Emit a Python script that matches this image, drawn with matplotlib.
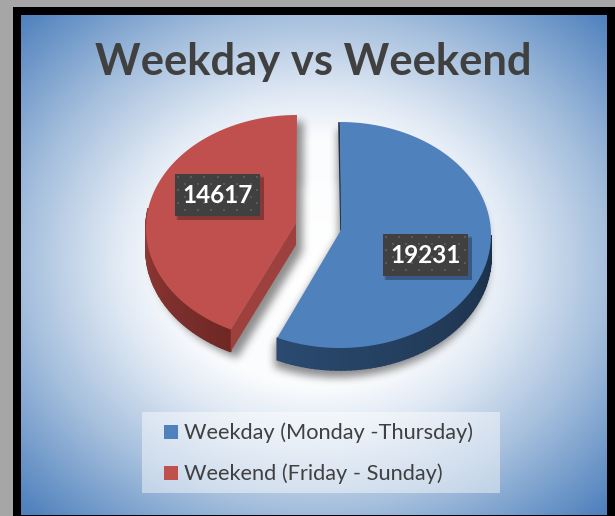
import numpy as np
import matplotlib
matplotlib.use("Agg")
import matplotlib.pyplot as plt
from matplotlib.colors import to_rgb
from matplotlib.patches import Polygon, Rectangle
from matplotlib.path import Path

labels = ["Weekday (Monday -Thursday)", "Weekend (Friday - Sunday)"]
values = [19231, 14617]
title = "Weekday vs Weekend"

BLUE = "#4f81bd"
RED = "#c0504d"
RED_CUT = "#9e403d"
RX, RY, DEPTH = 151, 113, 22


def rim(cx, cy, t0, t1, n=160):
    # angles run clockwise from the top, squashed to an ellipse
    t = np.radians(np.linspace(t0, t1, n))
    return np.column_stack([cx + RX * np.sin(t), cy - RY * np.cos(t)])


def side(ax, cx, cy, t0, t1, col0, col1, n=60):
    # pie wall as thin strips so the shade can change along it
    edges = rim(cx, cy, t0, t1, n + 1)
    c0, c1 = np.array(to_rgb(col0)), np.array(to_rgb(col1))
    for i in range(n):
        col = c0 + (c1 - c0) * i / (n - 1)
        ax.add_patch(Polygon([edges[i], edges[i + 1], edges[i + 1] + [0, DEPTH], edges[i] + [0, DEPTH]],
                             fc=col, ec=col, lw=1.2, zorder=4))


def blur(a, size, passes=3):
    kernel = np.ones(size) / size
    for _ in range(passes):
        a = np.apply_along_axis(np.convolve, 0, a, kernel, mode="same")
        a = np.apply_along_axis(np.convolve, 1, a, kernel, mode="same")
    return a


def shadow(ax, pts, dx, dy, alpha, size=8):
    gx, gy = np.meshgrid(np.arange(615) + 0.5, np.arange(516) + 0.5)
    mask = Path(pts + [dx, dy]).contains_points(np.column_stack([gx.ravel(), gy.ravel()]))
    mask = blur(mask.reshape(gx.shape).astype(float), size)
    rgba = np.zeros(gx.shape + (4,))
    rgba[..., :3] = 0.12
    rgba[..., 3] = mask * alpha
    ax.imshow(rgba, extent=[0, 615, 516, 0], aspect="auto", zorder=3, interpolation="bilinear")


fig = plt.figure(figsize=(6.15, 5.16), dpi=100, facecolor="#ffffff")
ax = fig.add_axes([0, 0, 1, 1])
ax.axis("off")

# grey page and black frame
ax.add_patch(Rectangle((0, 0), 615, 516, fc="#a6a6a6", ec="none", zorder=0))
ax.add_patch(Rectangle((13, 7), 601.5, 509, fc="#000000", ec="none", zorder=1))

# radial background
L, R, T, B = 21, 607, 15, 515
xx, yy = np.meshgrid(np.linspace(L, R, 400), np.linspace(T, B, 340))
d = np.hypot((xx - 315) / 293, (yy - 262) / 248)
stops = [0, 0.5, 0.7, 1.0, 1.41]
cols = np.array([to_rgb(c) for c in ["#ffffff", "#fbfcfe", "#dde7f3", "#a5bfdd", "#4f81bd"]])
img = np.dstack([np.interp(d, stops, cols[:, i]) for i in range(3)])
ax.imshow(img, extent=[L, R, B, T], aspect="auto", zorder=2, interpolation="bilinear")

ang = 360 * values[0] / sum(values)

# blue slice
bx, by = 340, 235
apex = np.array([[bx + 1, by - 5]])
shadow(ax, np.vstack([rim(bx, by, 0, 90), rim(bx, by + DEPTH, 90, ang), rim(bx, by, ang, ang + 1)[:1], apex]),
       -4, 6, 0.5)
side(ax, bx, by, ang, 90, "#2a4a70", "#1c3048")
ax.plot([bx - 1, bx + 1], [by - 112, by - 5], color="#1c3048", lw=1.2, zorder=4)
ax.add_patch(Polygon(np.vstack([rim(bx, by, 0, ang), apex]), fc=BLUE, ec="none", zorder=5))

# red slice
rx, ry = 297, 228
ang_r = ang + 1.5
apex = np.array([[rx - 1, ry - 5]])
shadow(ax, np.vstack([rim(rx, ry + DEPTH, ang_r, 270), rim(rx, ry, 270, 360), apex + [0, DEPTH]]),
       5, 5, 0.5)
side(ax, rx, ry, ang_r, 280, "#6f2825", "#933b38")
tip = rim(rx, ry, ang_r, ang_r + 1)[0]
ax.add_patch(Polygon([apex[0], tip, tip + [0, DEPTH], apex[0] + [0, DEPTH]], fc=RED_CUT, ec="none", zorder=4))
ax.add_patch(Polygon(np.vstack([rim(rx, ry, ang_r, 360), apex]), fc=RED, ec="none", zorder=5))

# value boxes, dotted
for x, y, v in [(383, 234, values[0]), (175, 174, values[1])]:
    for k, a in enumerate([0.08, 0.1, 0.14]):
        ax.add_patch(Rectangle((x + 1 + k, y + 2 + k), 88 - k, 44 - k, fc="#000000", ec="none", alpha=a, zorder=6))
    ax.add_patch(Rectangle((x, y), 85, 42, fc="#404040", ec="none", zorder=7))
    gx, gy = np.meshgrid(np.arange(x + 3, x + 85, 6.6), np.arange(y + 3, y + 42, 6.6))
    ax.scatter(gx[::2, ::2], gy[::2, ::2], s=2.2, marker="s", color="#5a5a5a", lw=0, zorder=7)
    ax.scatter(gx[1::2, 1::2], gy[1::2, 1::2], s=2.2, marker="s", color="#5a5a5a", lw=0, zorder=7)
    ax.text(x + 42.5, y + 21.5, str(v), color="white", fontsize=17.5, fontweight="bold",
            family="Lato", ha="center", va="center", zorder=8)

ax.text(313.5, 62, title, color="#404040", fontsize=31.3, fontweight="bold", family="Lato",
        ha="center", va="center", zorder=6)

# legend
ax.add_patch(Rectangle((142, 412), 358, 81, fc="white", ec="none", alpha=0.45, zorder=6))
for y, lab, col in zip([432, 473], labels, [BLUE, RED]):
    ax.add_patch(Rectangle((164, y - 7), 14, 14, fc=col, ec="none", zorder=7))
    ax.text(184, y + 0.5, lab, color="#404040", fontsize=15.7, family="Lato", va="center", zorder=7)

ax.set_xlim(0, 615)
ax.set_ylim(516, 0)
fig.savefig("out.png", dpi=100)
